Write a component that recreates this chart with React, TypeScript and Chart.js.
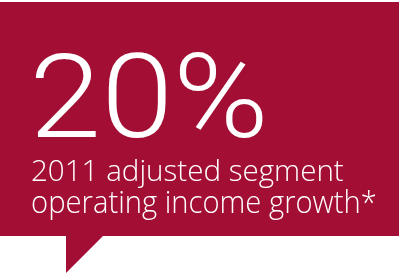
import React, { useEffect, useRef } from "react";
import { Chart, registerables } from "chart.js";

Chart.register(...registerables);

// Content
const headlineValue = [20];
const headlineSuffix = ["%"];
const captionLines = ["2011 adjusted segment", "operating income growth*"];

const BG = "rgb(163,14,52)";
const FG = "#ffffff";

function fitText(
  ctx: CanvasRenderingContext2D,
  text: string,
  family: string,
  weight: number,
  refText: string,
  left: number,
  baseline: number,
  refAscent: number,
  inkWidth: number
) {
  ctx.save();
  ctx.textBaseline = "alphabetic";
  ctx.textAlign = "left";
  ctx.font = `${weight} 100px ${family}`;
  const ref = ctx.measureText(refText);
  const size = (refAscent / ref.actualBoundingBoxAscent) * 100;
  ctx.font = `${weight} ${size}px ${family}`;
  const m = ctx.measureText(text);
  const w = m.actualBoundingBoxLeft + m.actualBoundingBoxRight;
  const sx = inkWidth / w;
  ctx.translate(left, baseline);
  ctx.scale(sx, 1);
  ctx.fillStyle = FG;
  ctx.fillText(text, m.actualBoundingBoxLeft, 0);
  ctx.restore();
}

const calloutPlugin = {
  id: "callout",
  beforeDraw(chart: any) {
    const ctx: CanvasRenderingContext2D = chart.ctx;
    const W = chart.width;
    const H = chart.height;
    ctx.save();
    ctx.fillStyle = BG;
    ctx.beginPath();
    ctx.moveTo(0, 2);
    ctx.lineTo(W - 4, 2);
    ctx.lineTo(W - 4, 236);
    ctx.lineTo(103, 236);
    ctx.lineTo(66, H);
    ctx.lineTo(66, 236);
    ctx.lineTo(0, 236);
    ctx.closePath();
    ctx.fill();
    ctx.restore();

    const head = `${headlineValue[0]}${headlineSuffix[0]}`;
    fitText(ctx, head, "Roboto", 300, "2", 36, 137, 85, 227);
    fitText(ctx, captionLines[0], "'Open Sans'", 300, "2", 32, 180.7, 21.3, 312);
    fitText(ctx, captionLines[1], "'Open Sans'", 300, "o", 32, 213.3, 16.5, 344);
  },
};

export default function App() {
  const ref = useRef<HTMLCanvasElement | null>(null);
  useEffect(() => {
    document.body.style.margin = "0";
    const canvas = ref.current!;
    const chart = new Chart(canvas, {
      type: "bar",
      data: { labels: [], datasets: [] },
      options: {
        animation: false,
        responsive: false,
        plugins: { legend: { display: false }, tooltip: { enabled: false } },
        scales: { x: { display: false }, y: { display: false } },
      },
      plugins: [calloutPlugin],
    });
    return () => chart.destroy();
  }, []);
  return (
    <div style={{ width: 403, height: 273 }}>
      <canvas ref={ref} width={403} height={273} style={{ display: "block" }} />
    </div>
  );
}
